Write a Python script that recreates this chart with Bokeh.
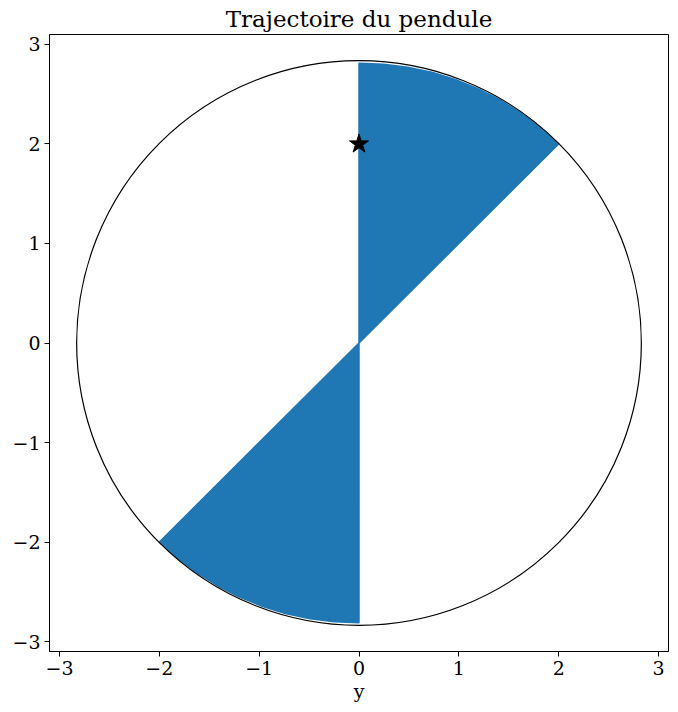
import numpy as np
from bokeh.plotting import figure
from bokeh.models import FixedTicker, Range1d
from bokeh.embed import file_html
from bokeh.resources import INLINE

# Pendulum swept angles (degrees from +x axis) and rod length
swing_angles_deg = [45, 50, 55, 60, 65, 70, 75, 80, 85, 90]
rod_length = [2.828, 2.826, 2.824, 2.822, 2.82, 2.818, 2.816, 2.814, 2.812, 2.81]
circle_radius = 2.828
start_point_x = [0.0]
start_point_y = [2.0]
ticks = [-3, -2, -1, 0, 1, 2, 3]

FONT = "DejaVu Serif"

p = figure(width=677, height=704, output_backend="svg", toolbar_location=None,
           x_range=Range1d(-3.1, 3.1), y_range=Range1d(-3.1, 3.1),
           title="Trajectoire du pendule",
           min_border_left=49, min_border_right=9, min_border_top=20, min_border_bottom=40)

p.title.text_font = FONT
p.title.text_font_size = "23px"
p.title.text_font_style = "normal"
p.title.text_color = "black"
p.title.align = "center"
p.title.offset = 0
p.title.standoff = 6

ang = np.radians(swing_angles_deg)
r = np.array(rod_length)
ux = r * np.cos(ang)
uy = r * np.sin(ang)
# upper wedge and its mirror (rod through the pivot)
xs_up = [0.0] + list(ux)
ys_up = [0.0] + list(uy)
xs_dn = [0.0] + list(-ux)
ys_dn = [0.0] + list(-uy)
p.patches(xs=[xs_up, xs_dn], ys=[ys_up, ys_dn], fill_color="#1f77b4",
          line_color="#1f77b4", line_width=1.5)

p.circle(x=[0], y=[0], radius=circle_radius, fill_color=None, line_color="black",
         line_width=1.2)

p.scatter(x=start_point_x, y=start_point_y, marker="star", size=20,
          fill_color="black", line_color="black")

p.xgrid.visible = False
p.ygrid.visible = False
p.outline_line_color = "black"
p.outline_line_width = 1
p.outline_line_alpha = 1

for ax in (p.xaxis, p.yaxis):
    ax.ticker = FixedTicker(ticks=ticks)
    ax.major_label_text_font = FONT
    ax.major_label_text_font_size = "19px"
    ax.major_label_text_color = "black"
    ax.minor_tick_line_color = None
    ax.major_tick_in = 0
    ax.major_tick_out = 5
    ax.major_tick_line_color = "black"
    ax.axis_line_color = "black"
    ax.major_label_standoff = 4

p.xaxis.axis_label = "y"
p.xaxis.axis_label_text_font = FONT
p.xaxis.axis_label_text_font_size = "19px"
p.xaxis.axis_label_text_font_style = "normal"
p.xaxis.axis_label_text_color = "black"
p.xaxis.axis_label_standoff = 2
p.xaxis.major_label_overrides = {t: ("\u2212" + str(-t) if t < 0 else str(t)) for t in ticks}
p.yaxis.major_label_overrides = {t: ("\u2212" + str(-t) if t < 0 else str(t)) for t in ticks}

open("out.html", "w").write(file_html(p, INLINE))
